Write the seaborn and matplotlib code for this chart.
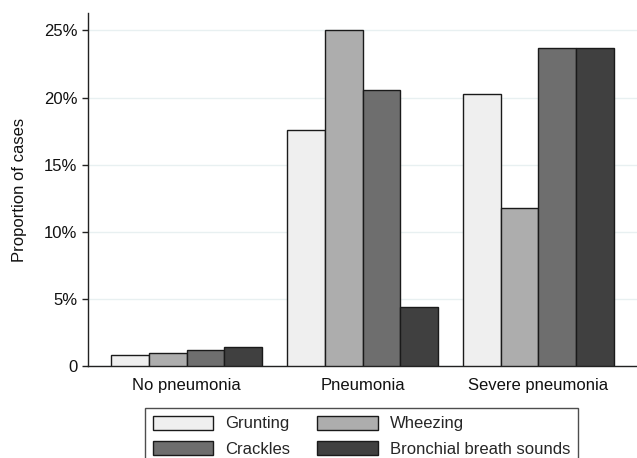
import matplotlib
matplotlib.use("Agg")
import matplotlib.pyplot as plt
import seaborn as sns
import pandas as pd
from matplotlib.ticker import FuncFormatter

categories = ["No pneumonia", "Pneumonia", "Severe pneumonia"]
signs = ["Grunting", "Wheezing", "Crackles", "Bronchial breath sounds"]
grunting = [0.82, 17.6, 20.3]
wheezing = [0.97, 25.0, 11.8]
crackles = [1.16, 20.6, 23.7]
bronchial = [1.39, 4.4, 23.7]
colors = ["#efefef", "#adadad", "#6e6e6e", "#404040"]
yticks = [0, 5, 10, 15, 20, 25]

rows = []
for s, vals in zip(signs, [grunting, wheezing, crackles, bronchial]):
    for c, v in zip(categories, vals):
        rows.append({"Category": c, "Sign": s, "Value": v})
df = pd.DataFrame(rows)

sns.set_theme(style="white")
plt.rcParams["font.family"] = ["Liberation Sans", "DejaVu Sans"]

FS = 12
fig = plt.figure(figsize=(6.37, 4.58), dpi=100)
ax = fig.add_axes([88/637, 1-366/458, 1-88/637, (366-13)/458])

sns.barplot(data=df, x="Category", y="Value", hue="Sign", order=categories,
            hue_order=signs, palette=colors, saturation=1, width=0.855, gap=0,
            edgecolor="#1a1a1a", linewidth=1.0, ax=ax, legend=True, zorder=3)

ax.set_xlim(-0.56, 2.56)
ax.set_ylim(0, 26.3)
ax.set_yticks(yticks)
ax.yaxis.set_major_formatter(FuncFormatter(lambda v, p: "0" if v == 0 else f"{v:.0f}%"))
ax.grid(axis="y", color="#e8f0f1", linewidth=1.0, zorder=0)
ax.set_axisbelow(True)
for side in ["top", "right"]:
    ax.spines[side].set_visible(False)
for side in ["left", "bottom"]:
    ax.spines[side].set_color("#222222")
    ax.spines[side].set_linewidth(1.0)
ax.tick_params(axis="y", left=True, length=4.5, width=1, color="#222222",
               labelsize=FS, labelcolor="#111111", pad=3)
ax.tick_params(axis="x", bottom=False, labelsize=FS, labelcolor="#111111", pad=2.5)
ax.set_xlabel("")
ax.set_ylabel("Proportion of cases", fontsize=FS, color="#111111", labelpad=12)

handles, labels = ax.get_legend_handles_labels()
ax.get_legend().remove()
order = [0, 2, 1, 3]
leg = fig.legend([handles[i] for i in order], [labels[i] for i in order],
                 ncol=2, loc="upper left", bbox_to_anchor=(145/637, 1-408/458),
                 frameon=True, fancybox=False, edgecolor="#222222",
                 fontsize=FS, handlelength=3.65, handleheight=0.95,
                 columnspacing=1.6, handletextpad=0.72, labelspacing=0.55,
                 borderpad=0.45, borderaxespad=0)
leg.get_frame().set_linewidth(1.0)

fig.savefig("out.png", dpi=100)
